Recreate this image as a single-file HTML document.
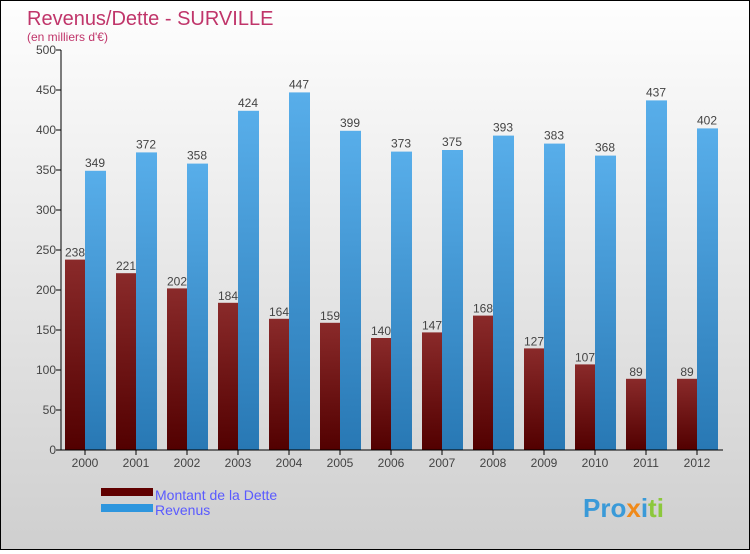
<!DOCTYPE html>
<html><head><meta charset="utf-8"><style>
body{margin:0;width:750px;height:550px;overflow:hidden;font-family:"Liberation Sans",sans-serif}
#c{position:absolute;left:0;top:0;width:748px;height:548px;border:1px solid #000;background:linear-gradient(#fefefe,#cfcfcf)}
</style></head><body>
<div id="c">
<svg id="s" width="748" height="548" xmlns="http://www.w3.org/2000/svg">
<defs>
<linearGradient id="gd" x1="0" y1="0" x2="0" y2="1"><stop offset="0" stop-color="#8a2a2a"/><stop offset="1" stop-color="#520000"/></linearGradient>
<linearGradient id="gr" x1="0" y1="0" x2="0" y2="1"><stop offset="0" stop-color="#58aeea"/><stop offset="1" stop-color="#2878b4"/></linearGradient>
</defs>
<text x="26" y="24" font-size="20" fill="#c0356a">Revenus/Dette - SURVILLE</text>
<text x="26" y="40" font-size="12" fill="#c0356a">(en milliers d'€)</text>
<g id="plot"></g>
<rect x="100" y="487" width="52" height="8" fill="#600000"/>
<rect x="100" y="503" width="52" height="8" fill="#2e96de"/>
<text x="154" y="499" font-size="14" fill="#5a5aff">Montant de la Dette</text>
<text x="154" y="514" font-size="14" fill="#5a5aff">Revenus</text>
<text x="582" y="516" font-size="26" font-weight="bold" fill="#3a9ad8">Pro<tspan fill="#f08a1a">x</tspan><tspan fill="#3a9ad8">i</tspan><tspan fill="#8cc83c">ti</tspan></text>
</svg></div>
<script>
const years=["2000","2001","2002","2003","2004","2005","2006","2007","2008","2009","2010","2011","2012"];
const dette=[238,221,202,184,164,159,140,147,168,127,107,89,89];
const revenus=[349,372,358,424,447,399,373,375,393,383,368,437,402];
const yTicks=[0,50,100,150,200,250,300,350,400,450,500];
const NS="http://www.w3.org/2000/svg";
const g=document.getElementById('plot');
const y=v=>449-v*0.8;
const x=i=>84+i*51;
function el(t,a,txt){const e=document.createElementNS(NS,t);for(const k in a)e.setAttribute(k,a[k]);if(txt!=null)e.textContent=txt;g.appendChild(e);return e;}
yTicks.forEach(v=>{
 const l=el('line',{x1:55,x2:60,y1:y(v),y2:y(v),stroke:'#000'});
 
 
 const t=el('text',{x:55,y:y(v)+4,'font-size':12,fill:'#444','text-anchor':'end'},v);
 
 
});
years.forEach((yr,i)=>{
 const cx=x(i);
 const b1=el('rect',{x:cx-20,y:y(dette[i]),width:20,height:dette[i]*0.8,fill:'url(#gd)'});
 
 
 const b2=el('rect',{x:cx,y:y(revenus[i]),width:21,height:revenus[i]*0.8,fill:'url(#gr)'});
 
 
 const t1=el('text',{x:cx-10,y:y(dette[i])-3,'font-size':12,fill:'#444','text-anchor':'middle'},dette[i]);
 
 
 const t2=el('text',{x:cx+10,y:y(revenus[i])-4,'font-size':12,fill:'#444','text-anchor':'middle'},revenus[i]);
 
 
 const tk=el('line',{x1:cx,x2:cx,y1:449,y2:454,stroke:'#000'});
 
 
 const xl=el('text',{x:cx,y:466,'font-size':12,fill:'#444','text-anchor':'middle'},yr);
 
 
});
const ax=el('line',{x1:60,x2:60,y1:49,y2:449,stroke:'#000'});


const bx=el('line',{x1:60,x2:722,y1:449,y2:449,stroke:'#000'});


</script>
</body></html>
